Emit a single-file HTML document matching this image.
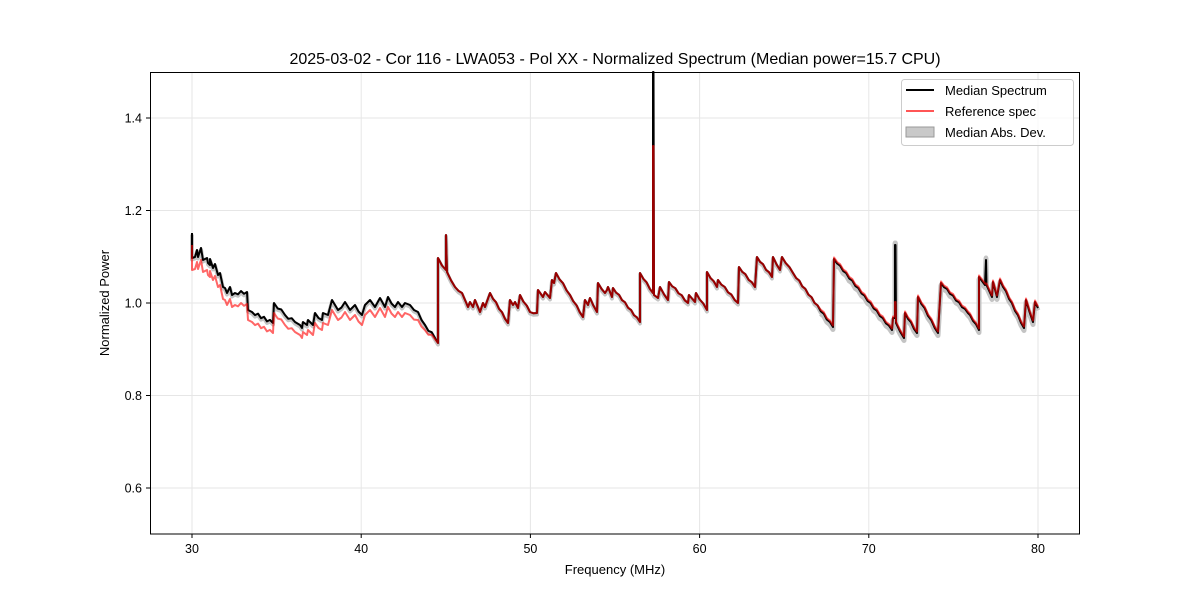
<!DOCTYPE html>
<html><head><meta charset="utf-8"><style>
body{margin:0;background:#fff;}
svg{font-family:"Liberation Sans","DejaVu Sans",sans-serif;}
</style></head><body>
<svg id="s" width="1200" height="600" xmlns="http://www.w3.org/2000/svg">
<rect width="1200" height="600" fill="#fff"/>
<g id="grid"></g>
<g id="band"></g>
<g id="lines"></g>
<rect x="150.5" y="72.5" width="929" height="461.5" fill="none" stroke="#000" stroke-width="1"/>
<g id="ticks" font-size="12.5"></g>
<text x="615" y="64" font-size="16" text-anchor="middle">2025-03-02 - Cor 116 - LWA053 - Pol XX - Normalized Spectrum (Median power=15.7 CPU)</text>
<text x="615" y="574" font-size="13" text-anchor="middle">Frequency (MHz)</text>
<text transform="translate(109,303) rotate(-90)" font-size="13" text-anchor="middle">Normalized Power</text>
<g font-size="13">
<rect x="901.5" y="79.5" width="172" height="66" rx="3" fill="#fff" fill-opacity="0.8" stroke="#ccc"/>
<line x1="906" y1="90" x2="934" y2="90" stroke="#000" stroke-width="2"/>
<text x="945" y="95">Median Spectrum</text>
<line x1="906" y1="111" x2="934" y2="111" stroke="#f55" stroke-width="2"/>
<text x="945" y="116">Reference spec</text>
<rect x="906" y="127" width="28" height="10" fill="#bbb" fill-opacity="0.8" stroke="#999"/>
<text x="945" y="137">Median Abs. Dev.</text>
</g>
</svg>
<script>
var NS="http://www.w3.org/2000/svg";
function el(p,t,a,txt){var e=document.createElementNS(NS,t);for(var k in a)e.setAttribute(k,a[k]);if(txt)e.textContent=txt;document.getElementById(p).appendChild(e);return e;}
for(var f=30;f<=80;f+=10){var x=192+(f-30)*16.92;
el("grid","line",{x1:x,y1:72,x2:x,y2:534,stroke:"#e6e6e6"});
el("ticks","line",{x1:x,y1:534,x2:x,y2:538,stroke:"#000"});
el("ticks","text",{x:x,y:553,"text-anchor":"middle"},String(f));}
[0.6,0.8,1.0,1.2,1.4].forEach(function(v){var y=303-(v-1)*462.5;
el("grid","line",{x1:150,y1:y,x2:1080,y2:y,stroke:"#e6e6e6"});
el("ticks","line",{x1:146,y1:y,x2:150,y2:y,stroke:"#000"});
el("ticks","text",{x:142,y:y+4.5,"text-anchor":"end"},v.toFixed(1));});
var P=[[192,233],[192,258],[195,257],[197,250],[198,257],[201,248],[203,260],[207,258],[208,263],[210,265],[210,259],[213,268],[215,264],[218,275],[220,273],[223,287],[225,288],[227,293],[230,287],[232,295],[235,293],[247,292],[248,310],[252,312],[273,323],[274,303],[285,315],[295,322],[300,325],[302,328],[303,322],[307,325],[308,320],[313,325],[315,313],[322,320],[323,313],[328,315],[332,300],[338,310],[345,302],[350,310],[355,305],[362,315],[365,305],[370,300],[375,307],[380,298],[385,307],[388,297],[395,307],[398,302],[402,307],[405,303],[410,305],[418,312],[425,325],[435,338],[438,343],
[438,258],[446,270],[446,235],[447,272],[455,287],[462,293],[465,300],[468,307],[470,302],[473,307],[475,300],[480,312],[483,303],[485,307],[490,293],[508,323],[510,300],[513,305],[515,302],[518,308],[520,295],[530,312],[537,313],[538,290],[543,297],[545,292],[550,298],[552,280],[554,283],[556,273],[570,295],[583,317],[585,300],[588,305],[590,298],[597,312],[598,283],[605,293],[607,290],[608,287],[612,297],[613,288],[640,322],[640,273],[653,293],[653,72],[653.5,72],[654,295],[658,298],[660,287],[668,300],[669,282],[688,303],[689,295],[695,302],[696,293],[707,310],[707,272],[717,287],[718,280],[738,303],[739,267],[755,287],[757,257],[772,277],[773,257],[780,270],[782,257],[793,273],[833,327],[834,259],[892,330],[893,318],[895,318],[895,245],[895.5,245],[896,323],[904,338],[905,313],[917,333],[918,297],[938,333],[941,283],[968,313],[970,315],[979,330],[979,277],[985,285],[986,260],[986.5,285],[992,297],[993,282],[997,297],[1000,280],[1024,328],[1026,300],[1033,322],[1035,302],[1038,308]];
// densify with small jitter for texture
var D=[];for(var i=0;i<P.length;i++){D.push(P[i]);if(i+1<P.length){var a=P[i],b=P[i+1],dx=b[0]-a[0];if(dx>6){var n=Math.floor(dx/3);for(var j=1;j<n;j++){var t=j/n;D.push([a[0]+dx*t,a[1]+(b[1]-a[1])*t+((j%2)?1:-1)*(a[0]<440?1.5:0.8)]);}}}}
function path(pts,fy){return "M"+pts.map(function(p){return p[0].toFixed(1)+","+fy(p).toFixed(1)}).join("L");}
function isSpike(p){return (p[0]>=653&&p[0]<=653.5&&p[1]<100)||(p[0]>=895&&p[0]<=895.5&&p[1]<300)||(p[0]>=986&&p[0]<=986.5&&p[1]<270);}
var mad=D.filter(function(p){return !(p[0]>=653&&p[0]<=653.5&&p[1]<100)}).map(function(p){return [p[0],isSpike(p)?p[1]-4:p[1]];});
el("band","path",{d:path(mad,function(p){return p[1]+1.5;}),fill:"none",stroke:"#c4c4c4","stroke-width":4,"stroke-linejoin":"round"});
el("band","path",{d:path(mad.filter(function(p){return p[0]>=820}),function(p){return p[1]+2.5;}),fill:"none",stroke:"#c4c4c4","stroke-width":5,"stroke-linejoin":"round"});
el("lines","path",{d:path(D,function(p){return p[1];}),fill:"none",stroke:"#000","stroke-width":2,"stroke-linejoin":"round"});
el("lines","path",{d:path(D,function(p){var y=p[1],x=p[0];
 if(x>=653&&x<=653.5&&y<100)return 146;
 if(x>=895&&x<=895.5&&y<300)return 302;
 if(x>=986&&x<=986.5&&y<270)return 284;
 if(x<248)return y+12;
 if(x<438)return y+10*Math.min(1,(438-x)/25);
 if(x>820)return y-1.5;
 return y;}),fill:"none",stroke:"#ff0000","stroke-opacity":0.6,"stroke-width":2,"stroke-linejoin":"round"});
</script>
</body></html>
